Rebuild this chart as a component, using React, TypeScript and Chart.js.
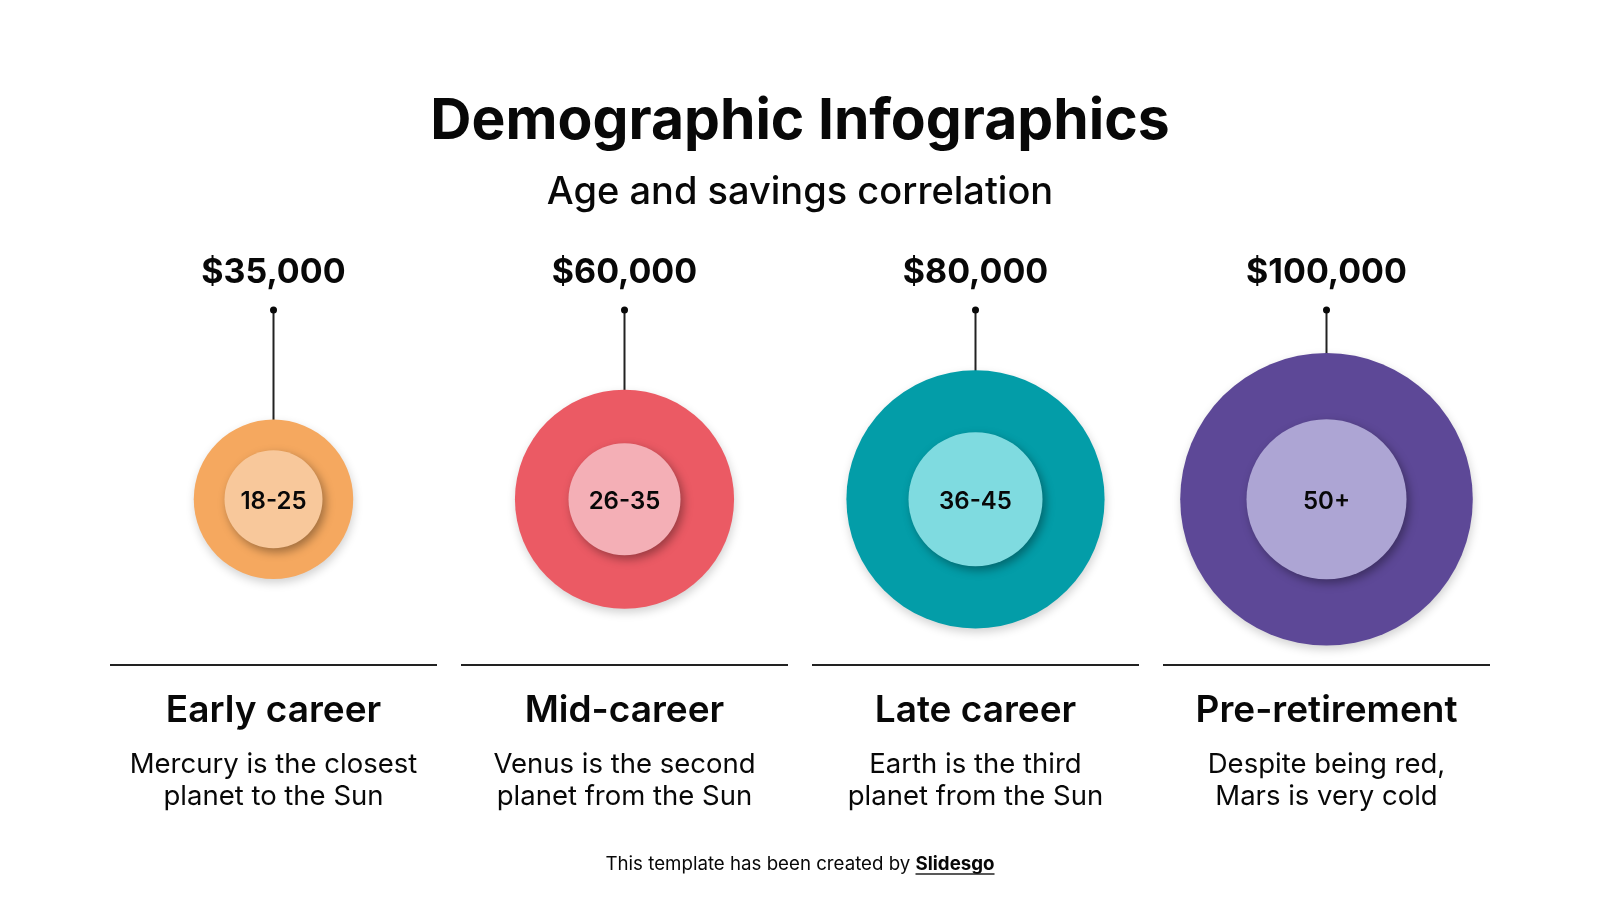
import React, { useEffect, useRef } from 'react';
import { Chart, registerables } from 'chart.js';

Chart.register(...registerables);

// ---- data ----
const stages = ['Early career', 'Mid-career', 'Late career', 'Pre-retirement'];
const ageGroups = ['18-25', '26-35', '36-45', '50+'];
const savings = [35000, 60000, 80000, 100000];
const savingsLabels = ['$35,000', '$60,000', '$80,000', '$100,000'];
const descriptions = [
  ['Mercury is the closest', 'planet to the Sun'],
  ['Venus is the second', 'planet from the Sun'],
  ['Earth is the third', 'planet from the Sun'],
  ['Despite being red,', 'Mars is very cold'],
];

// ---- styles ----
const outerColors = ['#F5A85F', '#EB5A64', '#039DA8', '#5D4897'];
const innerColors = ['#F8C89B', '#F4AFB6', '#7FDBE0', '#ADA5D4'];
const innerRadiusPx = [49, 56, 67, 80];
const FONT = 'Inter, "Open Sans", sans-serif';
const INK = '#080808';
const LAYOUT = {
  valueY: 273,
  dotY: 310,
  ruleY: 665,
  ruleHalf: 163.5,
  headingY: 711,
  descY: 765,
  descLH: 31.5,
  footerY: 864,
};

// bubble size grows with the square root of savings
const outerRadius = (v: number) => 16.3 * Math.sqrt(v / 1000) - 16.7;

const shadowPlugin = {
  id: 'shadows',
  beforeDatasetDraw(chart: any, args: any) {
    const ctx = chart.ctx;
    ctx.save();
    if (args.index === 0) {
      ctx.shadowColor = 'rgba(0,0,0,0.35)';
      ctx.shadowBlur = 10;
      ctx.shadowOffsetX = 3;
      ctx.shadowOffsetY = 4;
    } else {
      ctx.shadowColor = 'rgba(0,0,0,0.18)';
      ctx.shadowBlur = 10;
      ctx.shadowOffsetX = 1;
      ctx.shadowOffsetY = 4;
    }
  },
  afterDatasetDraw(chart: any) {
    chart.ctx.restore();
  },
};

const infoPlugin = {
  id: 'info',
  beforeDatasetsDraw(chart: any) {
    const ctx = chart.ctx;
    const meta = chart.getDatasetMeta(1);
    ctx.save();
    meta.data.forEach((el: any, i: number) => {
      const x = el.x;
      const top = el.y - el.options.radius;
      // value label
      ctx.fillStyle = INK;
      ctx.font = `700 34px ${FONT}`;
      ctx.textAlign = 'center';
      ctx.textBaseline = 'middle';
      ctx.fillText(savingsLabels[i], x, LAYOUT.valueY);
      // stem
      ctx.strokeStyle = '#222';
      ctx.lineWidth = 2;
      ctx.beginPath();
      ctx.moveTo(x, LAYOUT.dotY);
      ctx.lineTo(x, top + 2);
      ctx.stroke();
      ctx.beginPath();
      ctx.arc(x, LAYOUT.dotY, 3.5, 0, Math.PI * 2);
      ctx.fill();
      // rule
      ctx.strokeStyle = '#222';
      ctx.lineWidth = 2;
      ctx.beginPath();
      ctx.moveTo(x - LAYOUT.ruleHalf, LAYOUT.ruleY);
      ctx.lineTo(x + LAYOUT.ruleHalf, LAYOUT.ruleY);
      ctx.stroke();
      // heading
      ctx.font = `600 37px ${FONT}`;
      ctx.fillText(stages[i], x, LAYOUT.headingY);
      // description
      ctx.font = `400 27.5px ${FONT}`;
      descriptions[i].forEach((line, j) => {
        ctx.fillText(line, x, LAYOUT.descY + j * LAYOUT.descLH);
      });
    });
    // footer
    const a = 'This template has been created by ';
    const b = 'Slidesgo';
    ctx.font = `400 18.7px ${FONT}`;
    const wa = ctx.measureText(a).width;
    ctx.font = `700 18.7px ${FONT}`;
    const wb = ctx.measureText(b).width;
    const start = chart.width / 2 - (wa + wb) / 2;
    ctx.textAlign = 'left';
    ctx.font = `400 18.7px ${FONT}`;
    ctx.fillText(a, start, LAYOUT.footerY);
    ctx.font = `700 18.7px ${FONT}`;
    ctx.fillText(b, start + wa, LAYOUT.footerY);
    ctx.lineWidth = 1.5;
    ctx.beginPath();
    ctx.moveTo(start + wa, LAYOUT.footerY + 10);
    ctx.lineTo(start + wa + wb, LAYOUT.footerY + 10);
    ctx.stroke();
    ctx.restore();
  },
  afterDatasetsDraw(chart: any) {
    const ctx = chart.ctx;
    const meta = chart.getDatasetMeta(0);
    ctx.save();
    ctx.fillStyle = INK;
    ctx.font = `600 24px ${FONT}`;
    ctx.textAlign = 'center';
    ctx.textBaseline = 'middle';
    meta.data.forEach((el: any, i: number) => {
      ctx.fillText(ageGroups[i], el.x, el.y + 2);
    });
    ctx.restore();
  },
};

export default function App() {
  const ref = useRef<HTMLCanvasElement>(null);
  useEffect(() => {
    if (!ref.current) return;
    const chart = new Chart(ref.current, {
      type: 'bubble',
      data: {
        datasets: [
          {
            label: 'Age group',
            data: savings.map((v, i) => ({ x: i, y: 0, r: innerRadiusPx[i] })),
            backgroundColor: innerColors,
            borderWidth: 0,
            clip: false,
          },
          {
            label: 'Savings',
            data: savings.map((v, i) => ({ x: i, y: 0, r: outerRadius(v) })),
            backgroundColor: outerColors,
            borderWidth: 0,
            clip: false,
          },
        ],
      },
      options: {
        responsive: false,
        animation: false,
        devicePixelRatio: 1,
        events: [],
        layout: { autoPadding: false, padding: { top: 0, left: 98, right: 98, bottom: 134.4 } },
        scales: {
          x: { type: 'linear', min: -0.5, max: 3.5, display: false },
          y: { type: 'linear', min: -1, max: 1, display: false },
        },
        plugins: {
          legend: { display: false },
          tooltip: { enabled: false },
          title: {
            display: true,
            text: 'Demographic Infographics',
            color: INK,
            font: { family: FONT, size: 57, weight: 'bold', lineHeight: 1.2 },
            padding: { top: 88, bottom: 0 },
          },
          subtitle: {
            display: true,
            text: 'Age and savings correlation',
            color: INK,
            font: { family: FONT, size: 38, weight: '500', lineHeight: 1.2 },
            padding: { top: 13, bottom: 18 },
          },
        },
      },
      plugins: [shadowPlugin, infoPlugin],
    });
    return () => chart.destroy();
  }, []);
  return (
    <div style={{ position: 'absolute', left: 0, top: 0, width: 1600, height: 900, background: '#fff' }}>
      <canvas ref={ref} width={1600} height={900} style={{ display: 'block' }} />
    </div>
  );
}
